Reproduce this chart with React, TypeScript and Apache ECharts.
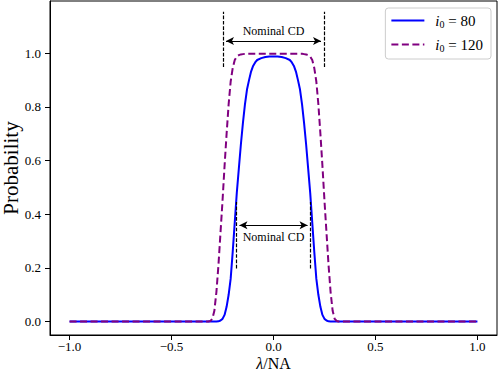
import React, { useEffect, useRef } from "react";
import * as echarts from "echarts";

// x positions (lambda / NA)
const xs = [
  -1.0, -0.34, -0.32, -0.31, -0.3, -0.29, -0.28, -0.27, -0.26, -0.25, -0.24, -0.23, -0.22, -0.21, -0.2,
  -0.19, -0.18, -0.17, -0.16, -0.15, -0.14, -0.13, -0.12, -0.11, -0.1, -0.09, -0.08, -0.06, -0.04, -0.02,
  0.0,
  0.02, 0.04, 0.06, 0.08, 0.09, 0.1, 0.11, 0.12, 0.13, 0.14, 0.15, 0.16, 0.17, 0.18, 0.19, 0.2,
  0.21, 0.22, 0.23, 0.24, 0.25, 0.26, 0.27, 0.28, 0.29, 0.3, 0.31, 0.32, 0.34, 1.0,
];

// probability for i0 = 80
const probI80 = [
  0, 0, 0, 0, 0, 0, 0, 0.001, 0.004, 0.01, 0.025, 0.055, 0.1, 0.16, 0.26,
  0.37, 0.48, 0.57, 0.66, 0.74, 0.81, 0.865, 0.9, 0.932, 0.953, 0.966, 0.975, 0.982, 0.986, 0.988,
  0.988,
  0.988, 0.986, 0.982, 0.975, 0.966, 0.953, 0.932, 0.9, 0.865, 0.81, 0.74, 0.66, 0.57, 0.48, 0.37, 0.26,
  0.16, 0.1, 0.055, 0.025, 0.01, 0.004, 0.001, 0, 0, 0, 0, 0, 0, 0,
];

// probability for i0 = 120
const probI120 = [
  0, 0, 0, 0.002, 0.01, 0.04, 0.11, 0.21, 0.33, 0.45, 0.58, 0.7, 0.81, 0.895, 0.945,
  0.975, 0.988, 0.993, 0.996, 0.997, 0.998, 0.998, 0.998, 0.998, 0.998, 0.998, 0.998, 0.998, 0.998, 0.998,
  0.998,
  0.998, 0.998, 0.998, 0.998, 0.998, 0.998, 0.998, 0.998, 0.998, 0.998, 0.997, 0.996, 0.993, 0.988, 0.975, 0.945,
  0.895, 0.81, 0.7, 0.58, 0.45, 0.33, 0.21, 0.11, 0.04, 0.01, 0.002, 0, 0, 0,
];

const seriesNames = ["i0 = 80", "i0 = 120"];
const legendValues = ["80", "120"];
const xTicks = [-1.0, -0.5, 0.0, 0.5, 1.0];
const yTicks = [0.0, 0.2, 0.4, 0.6, 0.8, 1.0];

// "Nominal CD" annotations: [halfWidth, lineBottom, lineTop, arrowHalf, arrowY, textY]
const outerCD = [0.247, 0.949, 1.155, 0.233, 1.046, 1.083];
const innerCD = [0.182, 0.198, 0.446, 0.167, 0.359, 0.316];

const FONT = "'Liberation Serif', 'Times New Roman', serif";
const X_MIN = -1.096;
const X_MAX = 1.096;
const Y_MIN = -0.05;
const Y_MAX = 1.195;

function cdMarks(cd: number[]) {
  const [hw, y0, y1, ah, ay] = cd;
  return {
    vertical: [
      [{ coord: [-hw, y0] }, { coord: [-hw, y1] }],
      [{ coord: [hw, y0] }, { coord: [hw, y1] }],
    ],
    arrow: [[{ coord: [-ah, ay] }, { coord: [ah, ay] }]],
  };
}

export default function App() {
  const ref = useRef<HTMLDivElement>(null);
  useEffect(() => {
    if (!ref.current) return;
    document.body.style.margin = "0";
    const chart = echarts.init(ref.current, null, { renderer: "svg" });
    const o = cdMarks(outerCD);
    const inn = cdMarks(innerCD);
    const fmtTick = (v: number) => (v < 0 ? "\u2212" : "") + Math.abs(v).toFixed(1);
    chart.setOption({
      animation: false,
      backgroundColor: "#ffffff",
      textStyle: { fontFamily: FONT, color: "#000" },
      grid: {
        left: 50,
        right: 3,
        top: 1,
        bottom: 37,
        show: true,
        borderColor: "#000",
        borderWidth: 1,
        backgroundColor: "transparent",
        outerBoundsMode: "none",
      },
      legend: {
        data: seriesNames,
        orient: "vertical",
        right: 9,
        top: 8,
        padding: [5, 8, 6, 5],
        itemWidth: 33,
        itemHeight: 14,
        itemGap: 8,
        borderColor: "#cccccc",
        borderWidth: 1,
        borderRadius: 3,
        backgroundColor: "rgba(255,255,255,0.8)",
        itemStyle: { color: "transparent", borderWidth: 0, opacity: 0 },
        formatter: (name: string) => {
          const idx = seriesNames.indexOf(name);
          return "{it|i}{sub|0}{n| = " + legendValues[idx] + "}";
        },
        textStyle: {
          fontFamily: FONT,
          color: "#000",
          padding: [0, 0, 0, 6],
          rich: {
            it: { fontFamily: FONT, fontStyle: "italic", fontSize: 15, color: "#000" },
            sub: { fontFamily: FONT, fontSize: 10, color: "#000", padding: [7, 0, 0, 0] },
            n: { fontFamily: FONT, fontSize: 15, color: "#000" },
          },
        },
      },
      xAxis: {
        type: "value",
        min: X_MIN,
        max: X_MAX,
        name: "{it|\u03bb}/NA",
        nameLocation: "middle",
        nameGap: 20,
        nameMoveOverlap: false,
        nameTextStyle: {
          fontFamily: FONT,
          fontSize: 16,
          color: "#000",
          rich: {
            it: { fontFamily: FONT, fontStyle: "italic", fontSize: 16, color: "#000" },
          },
        },
        axisLine: { show: true, onZero: false, lineStyle: { color: "#000", width: 1 } },
        axisTick: { show: true, customValues: xTicks, length: 5, lineStyle: { color: "#000" } },
        axisLabel: {
          customValues: xTicks,
          formatter: fmtTick,
          fontFamily: FONT,
          fontSize: 13,
          color: "#000",
          margin: 5,
        },
        splitLine: { show: false },
      },
      yAxis: {
        type: "value",
        min: Y_MIN,
        max: Y_MAX,
        name: "Probability",
        nameLocation: "middle",
        nameGap: 30,
        nameMoveOverlap: false,
        nameTextStyle: { fontFamily: FONT, fontSize: 21, lineHeight: 18, color: "#000" },
        axisLine: { show: true, onZero: false, lineStyle: { color: "#000", width: 1 } },
        axisTick: { show: true, customValues: yTicks, length: 5, lineStyle: { color: "#000" } },
        axisLabel: {
          customValues: yTicks,
          formatter: fmtTick,
          fontFamily: FONT,
          fontSize: 13,
          color: "#000",
          margin: 9,
        },
        splitLine: { show: false },
      },
      series: [
        {
          name: seriesNames[0],
          type: "line",
          data: xs.map((x, i) => [x, probI80[i]]),
          showSymbol: false,
          symbol: "none",
          lineStyle: { color: "#0000ff", width: 2 },
          itemStyle: { color: "#0000ff" },
          z: 2,
          markLine: {
            silent: true,
            symbol: ["none", "none"],
            label: { show: false },
            lineStyle: { color: "#000", width: 1.2, type: [3.7, 1.6] },
            data: [...o.vertical, ...inn.vertical],
          },
          markPoint: {
            silent: true,
            symbol: "circle",
            symbolSize: 0,
            label: {
              show: true,
              position: "inside",
              formatter: "Nominal CD",
              fontFamily: FONT,
              fontSize: 12,
              color: "#000",
            },
            data: [{ coord: [0, outerCD[5]] }, { coord: [0, innerCD[5]] }],
          },
        },
        {
          name: seriesNames[1],
          type: "line",
          data: xs.map((x, i) => [x, probI120[i]]),
          showSymbol: false,
          symbol: "none",
          lineStyle: { color: "#800080", width: 2, type: [7, 3.5] },
          itemStyle: { color: "#800080" },
          z: 3,
          markLine: {
            silent: true,
            symbol: ["arrow", "arrow"],
            symbolSize: [6, 8],
            label: { show: false },
            lineStyle: { color: "#000", width: 1.2, type: "solid" },
            itemStyle: { color: "#000" },
            data: [...o.arrow, ...inn.arrow],
          },
        },
      ],
    });
    return () => chart.dispose();
  }, []);
  return <div ref={ref} style={{ width: 500, height: 372 }} />;
}
